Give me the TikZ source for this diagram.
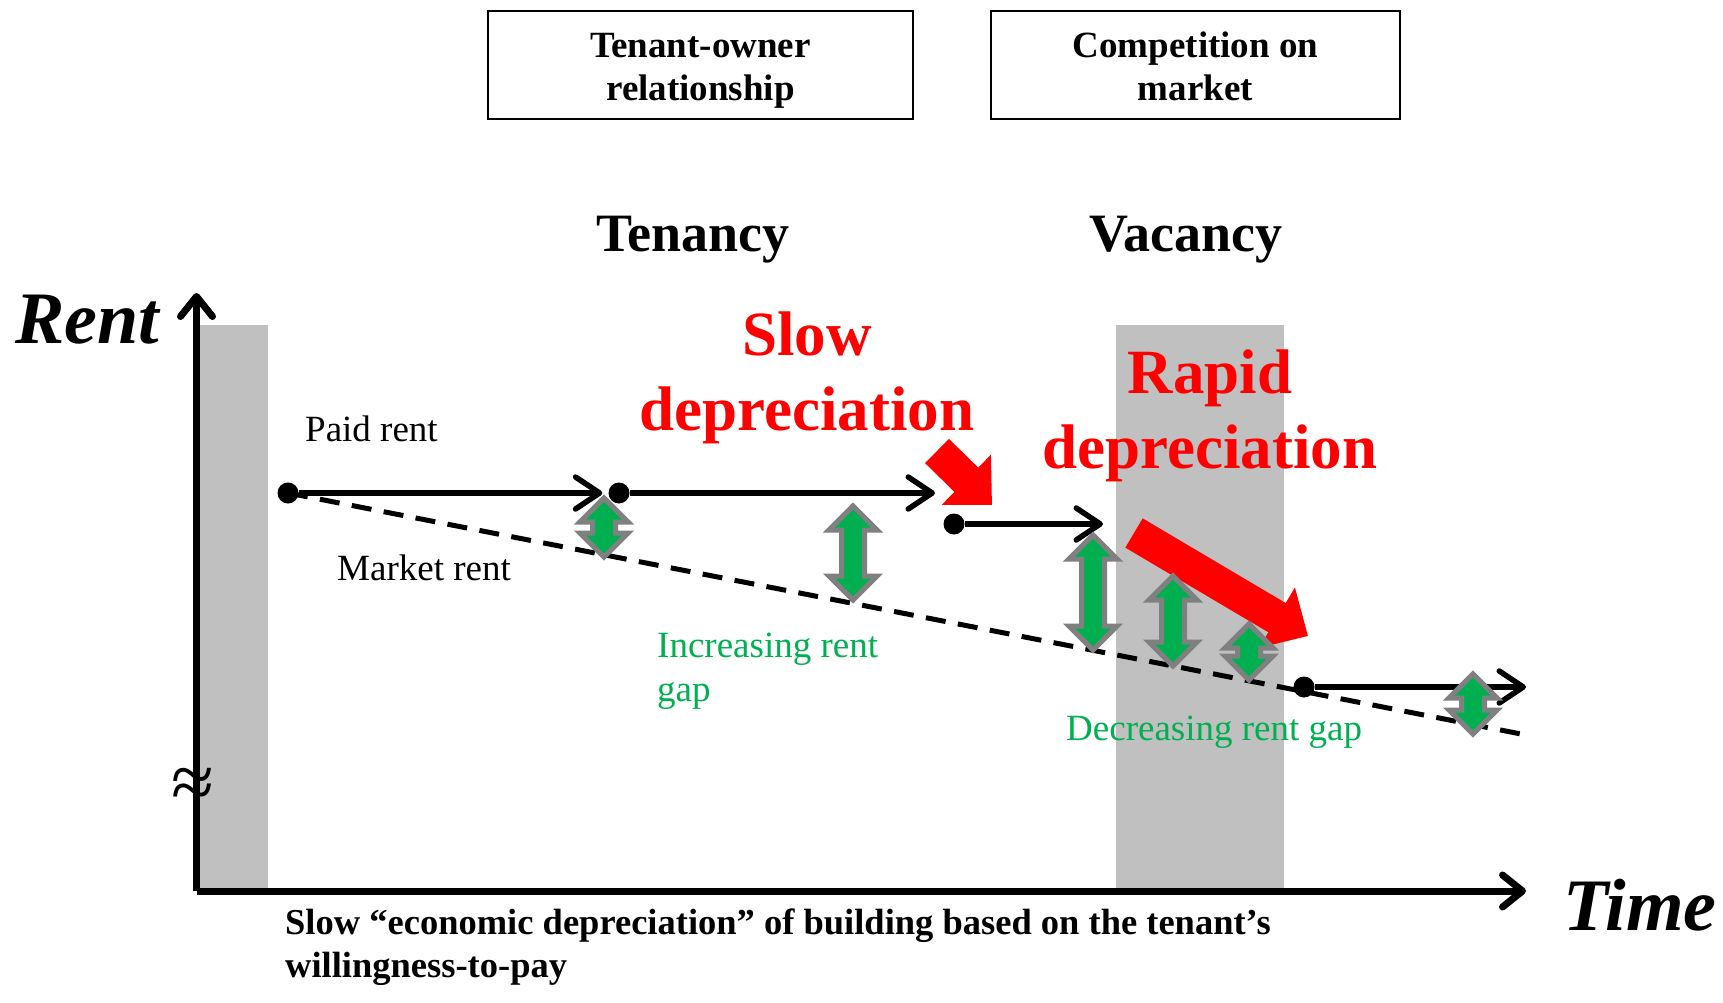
\documentclass[tikz,border=0pt]{standalone}
\usepackage{fontspec}
\setmainfont{Liberation Serif}
\usetikzlibrary{arrows.meta}
\definecolor{gapgreen}{RGB}{0,176,80}
\definecolor{bargray}{RGB}{192,192,192}
\definecolor{rimgray}{RGB}{128,128,128}

\tikzset{
  txt/.style={inner sep=0pt, font=\fontsize{37}{44}\selectfont},
  gaptxt/.style={txt, text=gapgreen, align=left},
  framebox/.style={draw, line width=2.5pt, minimum height=108pt, inner sep=0pt},
  boxtxt/.style={align=center, inner sep=0pt, font=\fontsize{37}{43}\selectfont\bfseries},
  phase/.style={inner sep=0pt, font=\fontsize{54}{60}\selectfont\bfseries},
  axislbl/.style={inner sep=0pt, font=\fontsize{74}{80}\selectfont\bfseries\itshape},
  redtxt/.style={inner sep=0pt, text=red, align=center, font=\fontsize{63}{75}\selectfont\bfseries},
  axis/.style={line width=7pt, -{Straight Barb[length=20pt,width=32pt,round]}},
  paid/.style={line width=5.5pt, -{Straight Barb[length=24pt,width=32pt,round]}},
  market/.style={line width=5pt, dash pattern={on 20pt off 12.5pt}},
  dot/.style={circle, fill, inner sep=0pt, minimum size=21pt},
  redblock/.style={draw=red, line width=34pt, -{Triangle[length=36pt,width=68pt]}},
  gap/.style={fill=gapgreen, draw=rimgray, line width=5pt, line join=miter}
}

% double arrow for the rent gap: x, top, bottom
\newcommand{\gaparrow}[3]{%
  \draw[gap] (#1,#2+3) -- ++(24,24) -- ++(-12.5,0) -- (#1+11.5,#3-27) -- ++(12.5,0)
    -- (#1,#3-3) -- ++(-24,-24) -- ++(12.5,0) -- (#1-11.5,#2+27) -- ++(-12.5,0) -- cycle;}

\begin{document}
\begin{tikzpicture}[x=1pt,y=1pt,yscale=-1,xscale=1]
\useasboundingbox (0,0) rectangle (1723,1003);

%Shape: Rectangle (tenancy bar)
\fill[bargray] (199,325) rectangle (268,891);
%Shape: Rectangle (vacancy bar)
\fill[bargray] (1116,325) rectangle (1284,891);

%Shape: Boxes
\node[framebox, minimum width=425pt] (ownerbox) at (700.5,65) {};
\node[framebox, minimum width=409pt] (marketbox) at (1195.5,65) {};
% Text Node
\node[boxtxt, anchor=base] (ownertxt) at (700.5,101) {Tenant-owner\\relationship};
% Text Node
\node[boxtxt, anchor=base] (markettxt) at (1195.5,101) {Competition on\\market};

% Axes
\coordinate (origin) at (196.5,891);
\coordinate (ytip) at (196.5,293);
\coordinate (xtip) at (1526,891);
\draw[axis] (origin) -- (ytip);
\draw[axis] (origin) -- (xtip);

% Rent dots
\node[dot] (p1) at (288,493) {};
\node[dot] (p2) at (619,493) {};
\node[dot] (p3) at (954,524) {};
\node[dot] (p4) at (1304,687) {};
\coordinate (e2) at (935,493);
\coordinate (e3) at (1103,524);
\coordinate (e4) at (1526,687);
\coordinate (mend) at (1521,734);

%Straight Lines (market rent)
\draw[market] (p1.center) -- (mend);
%Straight Lines (paid rent)
\draw[paid, shorten >=6pt] (p1) -- (p2);
\draw[paid] (p2) -- (e2);
\draw[paid] (p3) -- (e3);
\draw[paid] (p4) -- (e4);

%Shape: Red arrows
\coordinate (slowS) at (937,451);
\coordinate (slowE) at (992,505);
\draw[redblock] (slowS) -- (slowE);
\coordinate (rapidS) at (1134,533);
\coordinate (rapidE) at (1308,636);
\draw[redblock] (rapidS) -- (rapidE);

%Shape: Rent gap arrows
\gaparrow{604}{495}{560}
\gaparrow{853}{503}{603}
\gaparrow{1093}{532}{653}
\gaparrow{1173}{573}{669}
\gaparrow{1249}{621}{683}
\gaparrow{1473}{671}{737}

% Text Node
\node[phase, anchor=base] (tenancy) at (693,251) {Tenancy};
% Text Node
\node[phase, anchor=base] (vacancy) at (1186,251) {Vacancy};
% Text Node
\node[axislbl, anchor=base west] (rent) at (15,343) {Rent};
% Text Node
\node[axislbl, anchor=base west] (time) at (1563,930) {Time};
% Text Node
\node[txt, anchor=base west] (paidlbl) at (305,441) {Paid rent};
% Text Node
\node[txt, anchor=base west] (marketlbl) at (337,580) {Market rent};
% Text Node
\node[gaptxt, anchor=base west] (incr) at (657,701) {Increasing rent\\gap};
% Text Node
\node[gaptxt, anchor=base west] (decr) at (1066,740) {Decreasing rent gap};
% Text Node
\node[redtxt, anchor=base] (slow) at (807,430) {Slow\\depreciation};
% Text Node
\node[redtxt, anchor=base] (rapid) at (1210,468) {Rapid\\depreciation};
% Text Node
\node[txt, anchor=center, font=\fontsize{78}{80}\selectfont] (brk) at (193,788) {≈};
% Text Node
\node[txt, anchor=base west, align=left, font=\fontsize{36.5}{43}\selectfont\bfseries] (note) at (285,977)
  {Slow “economic depreciation” of building based on the tenant’s\\willingness-to-pay};

\end{tikzpicture}
\end{document}
